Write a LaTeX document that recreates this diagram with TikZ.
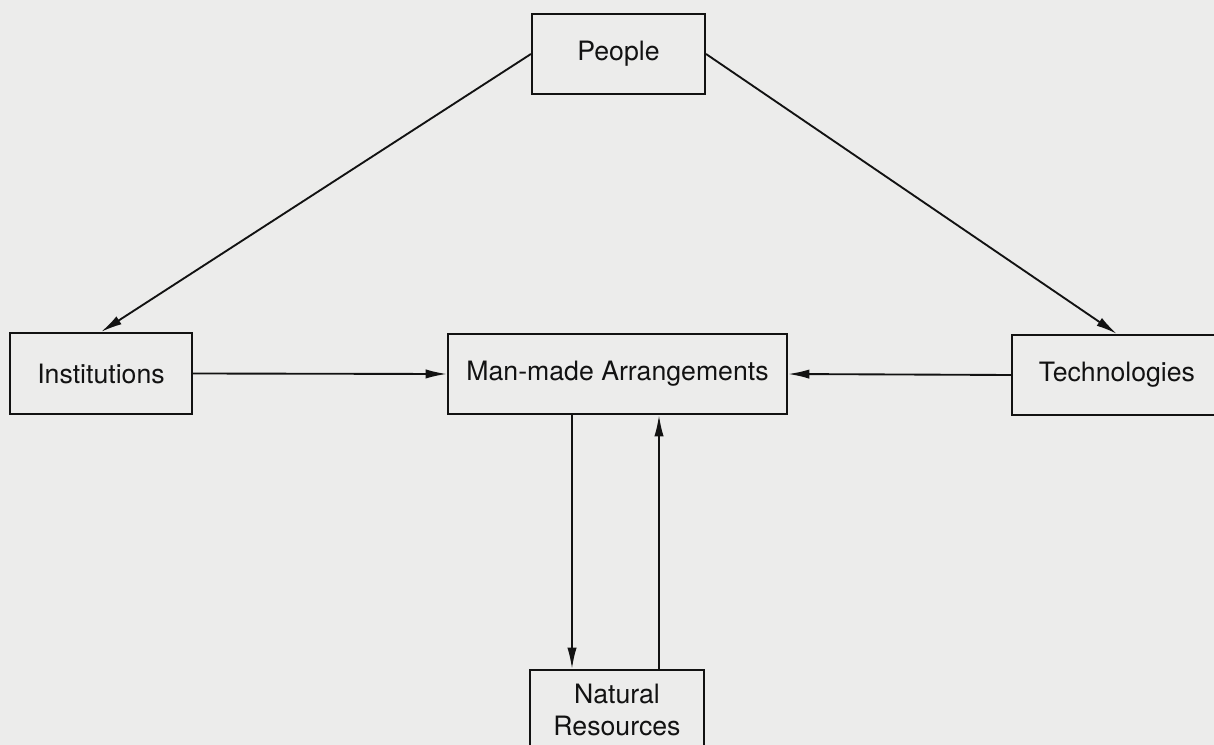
\documentclass[tikz,border=0pt]{standalone}
\usepackage{fontspec}
\setmainfont{TeX Gyre Heros}
\usetikzlibrary{arrows.meta}

\definecolor{paper}{RGB}{236,236,235}
\definecolor{ink}{RGB}{18,18,18}

\tikzset{
  box/.style={draw=ink, line width=1.6pt, text=ink, inner sep=0.75pt, minimum height=60pt, align=center,
    font=\fontsize{20}{23.5}\selectfont},
  link/.style={draw=ink, line width=1.4pt, -{Latex[length=16pt,width=7pt]}}
}

\begin{document}
\begin{tikzpicture}[x=0.75pt,y=0.75pt,yscale=-1,xscale=1]
%set diagram left start at 0, and has height of 745
\useasboundingbox (0,0) rectangle (1214,745);
\fill [paper] (0,0) rectangle (1214,745);

% Text Node
\node [box, minimum width=129.75pt] (people) at (618.5,54) {People};
% Text Node
\node [box, minimum width=136.5pt, minimum height=60.75pt] (inst) at (101,373.5) {Institutions};
% Text Node
\node [box, minimum width=254.25pt] (manmade) at (617.5,374) {Man-made Arrangements};
% Text Node
\node [box, minimum width=157.5pt] (tech) at (1117,375) {Technologies};
% Text Node
\node [box, minimum width=130.5pt] (natural) at (617,710) {Natural\\Resources};

% Connection
\draw [link] (people.west) -- (inst.north);
% Connection
\draw [link] (people.east) -- (tech.north);
% Connection
\draw [link] (inst.east) -- (manmade.west);
% Connection
\draw [link] (tech.west) -- (manmade.east);

\coordinate (down) at (572,0);
\coordinate (up) at (659,0);
% Connection
\draw [link] (manmade.south -| down) -- (natural.north -| down);
% Connection
\draw [link] (natural.north -| up) -- (manmade.south -| up);

\end{tikzpicture}
\end{document}
